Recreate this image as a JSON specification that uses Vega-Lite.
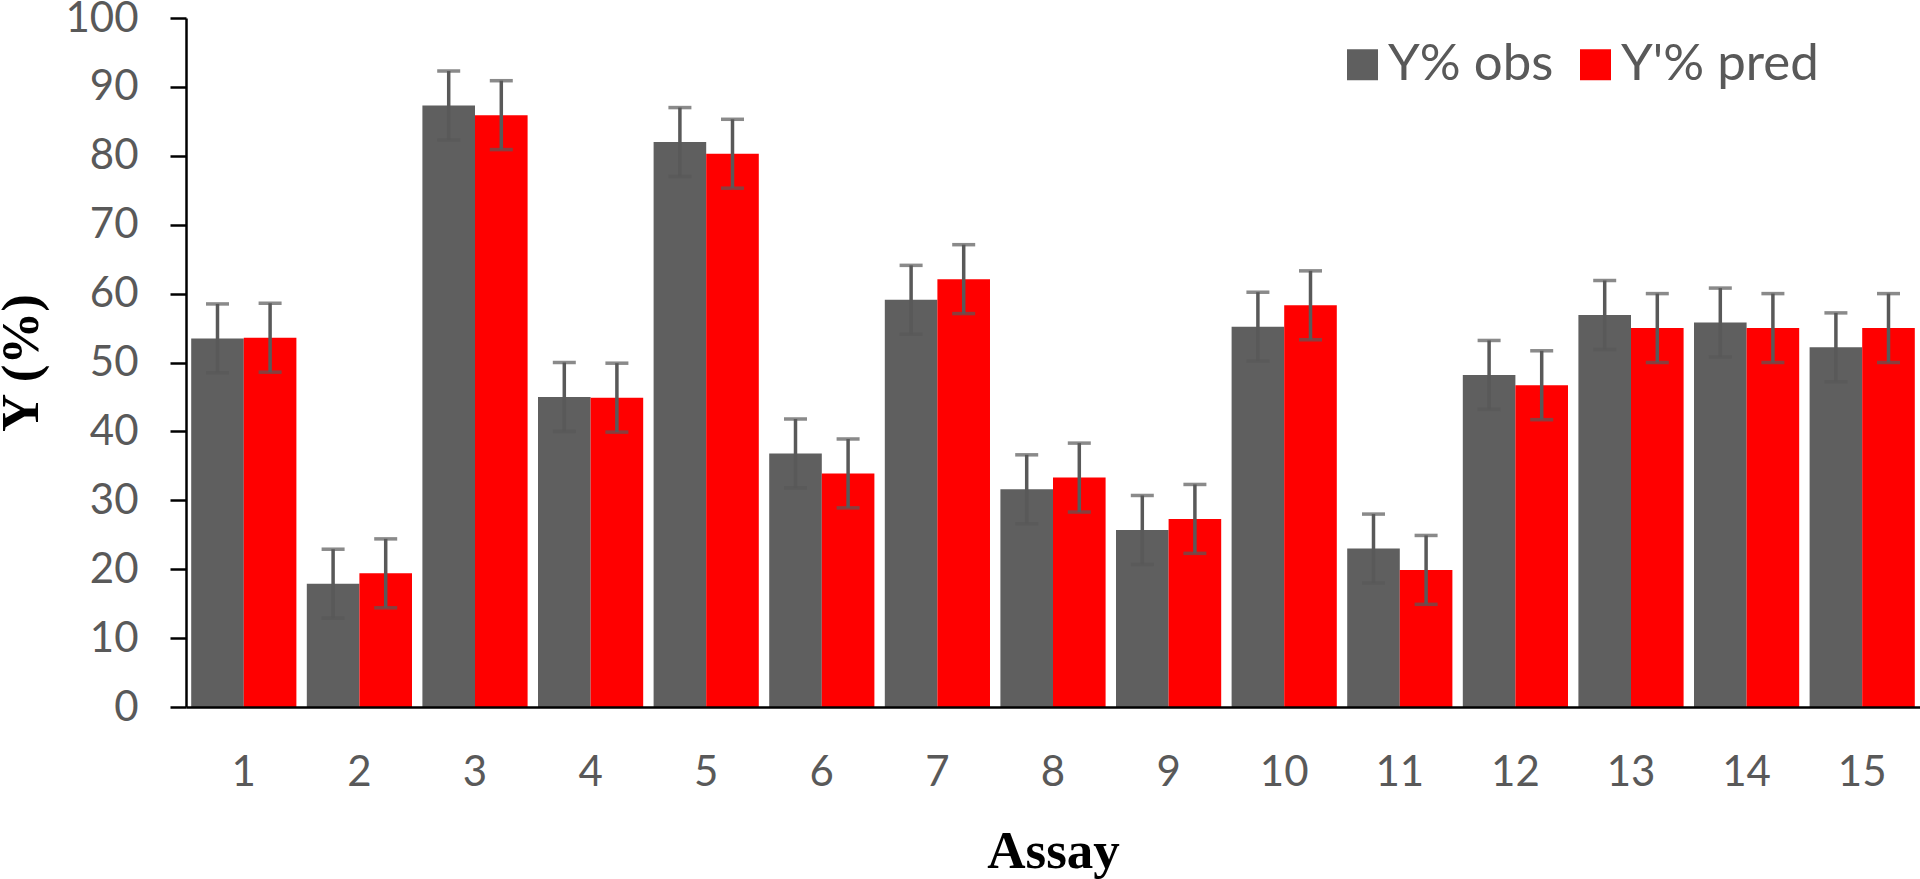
{
  "$schema": "https://vega.github.io/schema/vega-lite/v6.json",
  "autosize": {"type": "none"},
  "padding": {"left": 186, "top": 18, "right": 0, "bottom": 172},
  "width": 1734,
  "height": 689,
  "background": "white",
  "data": {
    "values": [
      {"Assay": 1, "series": "Y% obs", "value": 53.5, "lo": 48.5, "hi": 58.5},
      {"Assay": 1, "series": "Y'% pred", "value": 53.6, "lo": 48.6, "hi": 58.6},
      {"Assay": 2, "series": "Y% obs", "value": 17.9, "lo": 12.9, "hi": 22.9},
      {"Assay": 2, "series": "Y'% pred", "value": 19.4, "lo": 14.4, "hi": 24.4},
      {"Assay": 3, "series": "Y% obs", "value": 87.3, "lo": 82.3, "hi": 92.3},
      {"Assay": 3, "series": "Y'% pred", "value": 85.9, "lo": 80.9, "hi": 90.9},
      {"Assay": 4, "series": "Y% obs", "value": 45.0, "lo": 40.0, "hi": 50.0},
      {"Assay": 4, "series": "Y'% pred", "value": 44.9, "lo": 39.9, "hi": 49.9},
      {"Assay": 5, "series": "Y% obs", "value": 82.0, "lo": 77.0, "hi": 87.0},
      {"Assay": 5, "series": "Y'% pred", "value": 80.3, "lo": 75.3, "hi": 85.3},
      {"Assay": 6, "series": "Y% obs", "value": 36.8, "lo": 31.8, "hi": 41.8},
      {"Assay": 6, "series": "Y'% pred", "value": 33.9, "lo": 28.9, "hi": 38.9},
      {"Assay": 7, "series": "Y% obs", "value": 59.1, "lo": 54.1, "hi": 64.1},
      {"Assay": 7, "series": "Y'% pred", "value": 62.1, "lo": 57.1, "hi": 67.1},
      {"Assay": 8, "series": "Y% obs", "value": 31.6, "lo": 26.6, "hi": 36.6},
      {"Assay": 8, "series": "Y'% pred", "value": 33.3, "lo": 28.3, "hi": 38.3},
      {"Assay": 9, "series": "Y% obs", "value": 25.7, "lo": 20.7, "hi": 30.7},
      {"Assay": 9, "series": "Y'% pred", "value": 27.3, "lo": 22.3, "hi": 32.3},
      {"Assay": 10, "series": "Y% obs", "value": 55.2, "lo": 50.2, "hi": 60.2},
      {"Assay": 10, "series": "Y'% pred", "value": 58.3, "lo": 53.3, "hi": 63.3},
      {"Assay": 11, "series": "Y% obs", "value": 23.0, "lo": 18.0, "hi": 28.0},
      {"Assay": 11, "series": "Y'% pred", "value": 19.9, "lo": 14.9, "hi": 24.9},
      {"Assay": 12, "series": "Y% obs", "value": 48.2, "lo": 43.2, "hi": 53.2},
      {"Assay": 12, "series": "Y'% pred", "value": 46.7, "lo": 41.7, "hi": 51.7},
      {"Assay": 13, "series": "Y% obs", "value": 56.9, "lo": 51.9, "hi": 61.9},
      {"Assay": 13, "series": "Y'% pred", "value": 55.0, "lo": 50.0, "hi": 60.0},
      {"Assay": 14, "series": "Y% obs", "value": 55.8, "lo": 50.8, "hi": 60.8},
      {"Assay": 14, "series": "Y'% pred", "value": 55.0, "lo": 50.0, "hi": 60.0},
      {"Assay": 15, "series": "Y% obs", "value": 52.2, "lo": 47.2, "hi": 57.2},
      {"Assay": 15, "series": "Y'% pred", "value": 55.0, "lo": 50.0, "hi": 60.0}
    ]
  },
  "encoding": {
    "x": {
      "field": "Assay",
      "type": "ordinal",
      "sort": "ascending",
      "scale": {"paddingInner": 0.09, "paddingOuter": 0.045},
      "axis": {
        "title": "Assay",
        "labelAngle": 0,
        "ticks": false,
        "tickSize": 0,
        "labelPadding": 45,
        "labelFont": "Lato",
        "labelFontSize": 42,
        "labelColor": "#595959",
        "domainColor": "#000000",
        "domainWidth": 2.5,
        "titleFont": "Liberation Serif",
        "titleFontWeight": "bold",
        "titleFontSize": 53,
        "titleColor": "#000000",
        "titleY": 160,
        "titleBaseline": "alphabetic",
        "zindex": 1
      }
    },
    "xOffset": {
      "field": "series",
      "type": "nominal",
      "scale": {"domain": ["Y% obs", "Y'% pred"], "paddingInner": 0, "paddingOuter": 0}
    }
  },
  "layer": [
    {
      "mark": {"type": "bar"},
      "encoding": {
        "y": {
          "field": "value",
          "type": "quantitative",
          "scale": {"domain": [0, 100], "nice": false},
          "axis": {
            "title": "Y (%)",
            "values": [0, 10, 20, 30, 40, 50, 60, 70, 80, 90, 100],
            "grid": false,
            "tickSize": 16,
            "tickWidth": 2.5,
            "tickColor": "#000000",
            "domainColor": "#000000",
            "domainWidth": 2.5,
            "labelPadding": 32,
            "labelFont": "Lato",
            "labelFontSize": 42,
            "labelColor": "#595959",
            "titleFont": "Liberation Serif",
            "titleFontWeight": "bold",
            "titleFontSize": 53,
            "titleColor": "#000000",
            "titleAngle": 270,
            "titleX": -149,
            "titleBaseline": "alphabetic",
            "zindex": 1
          }
        },
        "color": {
          "field": "series",
          "type": "nominal",
          "scale": {"domain": ["Y% obs", "Y'% pred"], "range": ["#5f5f5f", "#ff0000"]},
          "legend": {
            "title": null,
            "orient": "none",
            "direction": "horizontal",
            "legendX": 1151,
            "legendY": 21,
            "padding": 0,
            "symbolType": "square",
            "symbolSize": 961,
            "symbolStrokeWidth": 0,
            "symbolOpacity": 1,
            "labelFont": "Lato",
            "labelFontSize": 51,
            "labelColor": "#595959",
            "labelLimit": 400,
            "labelOffset": 0,
            "columnPadding": 16
          }
        }
      }
    },
    {
      "mark": {"type": "rule", "color": "#595959", "strokeWidth": 3.5},
      "encoding": {
        "y": {"field": "lo", "type": "quantitative"},
        "y2": {"field": "hi"}
      }
    },
    {
      "mark": {"type": "tick", "color": "#595959", "size": 23, "thickness": 3.5, "orient": "horizontal"},
      "encoding": {
        "y": {"field": "lo", "type": "quantitative"}
      }
    },
    {
      "mark": {"type": "tick", "color": "#595959", "size": 23, "thickness": 3.5, "orient": "horizontal"},
      "encoding": {
        "y": {"field": "hi", "type": "quantitative"}
      }
    }
  ],
  "config": {
    "view": {"stroke": null}
  }
}
